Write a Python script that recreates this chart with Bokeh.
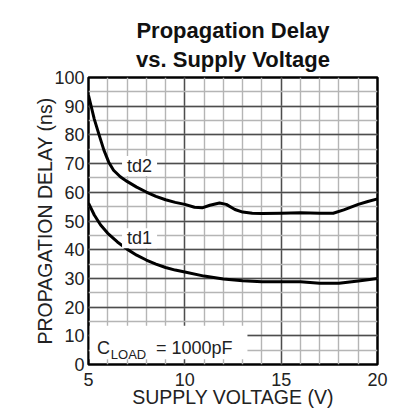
from bokeh.plotting import figure
from bokeh.models import Range1d, SingleIntervalTicker, Label, BoxAnnotation, Title
from bokeh.embed import file_html
from bokeh.resources import INLINE

FONT = "Liberation Sans"

# ---- data ----
supply_td2 = [5.0, 5.3, 5.55, 5.8, 6.05, 6.3, 6.65, 7.0, 7.5, 8.0, 8.5, 9.0, 9.5, 10.0,
              10.5, 10.9, 11.3, 11.8, 12.15, 12.6, 13.0, 13.5, 14.0, 15.0, 16.0, 17.0,
              17.7, 18.25, 19.0, 19.5, 20.0]
delay_td2 = [93.8, 85.5, 80.0, 74.7, 70.5, 67.7, 65.4, 63.8, 61.8, 60.1, 58.6, 57.4, 56.5, 55.8,
             54.8, 54.6, 55.5, 56.3, 55.8, 54.0, 53.1, 52.7, 52.6, 52.7, 52.9, 52.7,
             52.7, 53.9, 55.8, 56.8, 57.7]

supply_td1 = [5.0, 5.3, 5.63, 6.0, 6.5, 7.0, 7.5, 8.0, 8.5, 9.0, 9.5, 10.0, 11.0, 12.0,
              13.0, 14.0, 15.0, 16.0, 17.0, 18.0, 19.0, 20.0]
delay_td1 = [56.2, 52.1, 48.6, 45.7, 42.7, 40.2, 38.1, 36.4, 35.0, 33.8, 32.9, 32.2, 30.8, 29.8,
             29.2, 28.8, 28.8, 28.8, 28.3, 28.3, 29.1, 30.0]

series_names = ["td2", "td1"]
title_lines = ["Propagation Delay", "vs. Supply Voltage"]
x_title = "SUPPLY VOLTAGE (V)"
y_title = "PROPAGATION DELAY (ns)"
load_note = ["C", "LOAD", "= 1000pF"]

p = figure(width=416, height=420, output_backend="svg", toolbar_location=None,
           x_range=Range1d(5, 20), y_range=Range1d(0, 100),
           min_border_left=88, min_border_right=39, min_border_top=77, min_border_bottom=56)
p.background_fill_color = "white"
p.border_fill_color = "white"
p.outline_line_color = "black"
p.outline_line_width = 2.5

p.xaxis.ticker = SingleIntervalTicker(interval=5, num_minor_ticks=5)
p.yaxis.ticker = SingleIntervalTicker(interval=10, num_minor_ticks=2)

for g in (p.xgrid, p.ygrid):
    g.grid_line_color = "#4d4d4d"
    g.grid_line_width = 1.4
    g.minor_grid_line_color = "#b5b5b5"
    g.minor_grid_line_width = 1.4

p.axis.axis_line_color = None
p.axis.major_tick_line_color = None
p.axis.minor_tick_line_color = None
p.axis.major_label_text_font = FONT
p.axis.major_label_text_font_size = "18px"
p.axis.major_label_text_color = "#222222"
p.axis.axis_label_text_font = FONT
p.axis.axis_label_text_font_size = "19.5px"
p.axis.axis_label_text_font_style = "normal"
p.axis.axis_label_text_color = "#222222"
p.xaxis.axis_label = x_title
p.yaxis.axis_label = y_title
p.xaxis.major_label_standoff = 2
p.xaxis.axis_label_standoff = -3
p.yaxis.major_label_standoff = -2
p.yaxis.axis_label_standoff = -5

p.line(supply_td2, delay_td2, line_color="black", line_width=3, line_join="round")
p.line(supply_td1, delay_td1, line_color="black", line_width=3, line_join="round")

for name, yv in zip(series_names, [69.2, 44.0]):
    p.add_layout(Label(x=7.65, y=yv, text=name, text_align="center", text_baseline="alphabetic",
                       text_font=FONT, text_font_size="18px", text_color="#222222",
                       background_fill_color="white", padding=(5, 0)))

p.add_layout(BoxAnnotation(left=5.06, right=13.25, bottom=1.8, top=13.5,
                           fill_color="white", fill_alpha=1.0, line_color=None))
p.add_layout(Label(x=5.44, y=5.9, text=load_note[0], text_font=FONT, text_font_size="18px",
                   text_color="#222222", text_baseline="alphabetic"))
p.add_layout(Label(x=6.16, y=3.55, text=load_note[1], text_font=FONT, text_font_size="13px",
                   text_color="#222222", text_baseline="alphabetic"))
p.add_layout(Label(x=8.5, y=5.9, text=load_note[2], text_font=FONT, text_font_size="18px",
                   text_color="#222222", text_baseline="alphabetic"))

# two-line title: the lower line is added first (closest to the plot)
p.add_layout(Title(text=title_lines[1], align="center", vertical_align="top",
                   text_font=FONT, text_font_size="22px", text_font_style="bold",
                   text_color="#111111", standoff=8), "above")
p.add_layout(Title(text=title_lines[0], align="center", vertical_align="bottom",
                   text_font=FONT, text_font_size="22px", text_font_style="bold",
                   text_color="#111111", standoff=0), "above")

open("out.html", "w").write(file_html(p, INLINE))
